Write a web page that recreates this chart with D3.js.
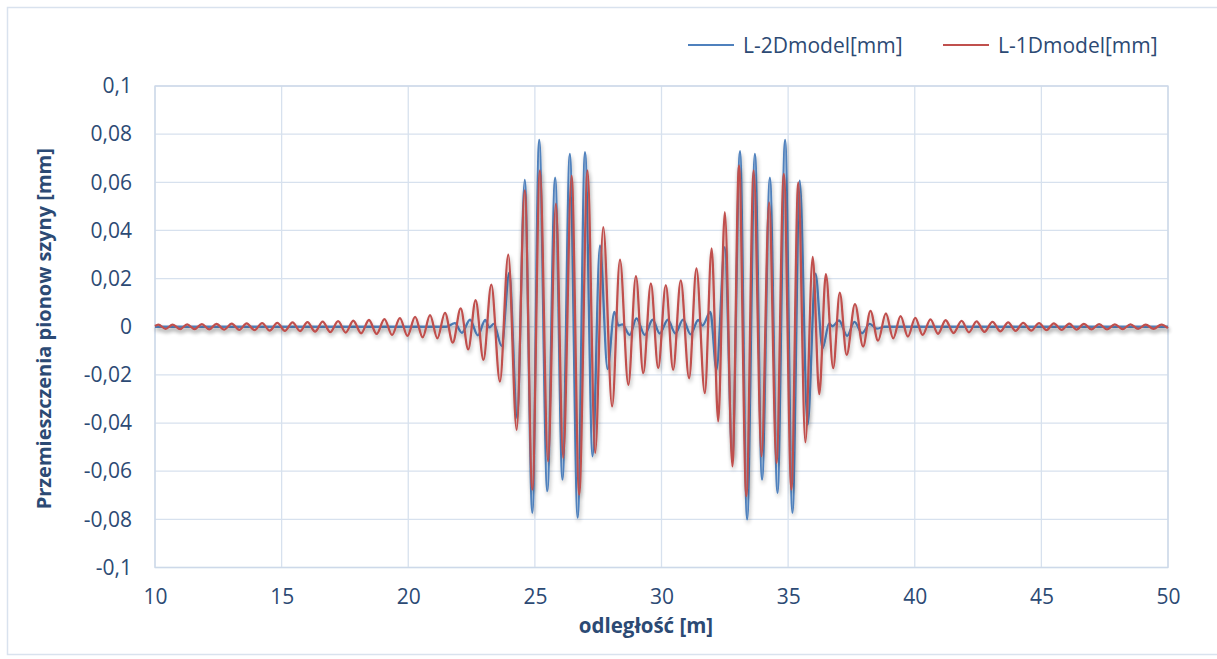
<!DOCTYPE html>
<html><head><meta charset="utf-8">
<script src="https://cdnjs.cloudflare.com/ajax/libs/d3/7.8.5/d3.min.js"></script>
<style>body{margin:0;background:#fff;} svg{display:block;}</style>
</head><body>
<svg id="chart" width="1217" height="659"></svg>
<script>
// ---- data ----
const xTicks = [10, 15, 20, 25, 30, 35, 40, 45, 50];
const xTickLabels = ["10", "15", "20", "25", "30", "35", "40", "45", "50"];
const yTicks = [0.1, 0.08, 0.06, 0.04, 0.02, 0, -0.02, -0.04, -0.06, -0.08, -0.1];
const yTickLabels = ["0,1", "0,08", "0,06", "0,04", "0,02", "0", "-0,02", "-0,04", "-0,06", "-0,08", "-0,1"];
const seriesNames = ["L-2Dmodel[mm]", "L-1Dmodel[mm]"];
const xTitle = "odległość [m]";
const yTitle = "Przemieszczenia pionow szyny [mm]";

// L-2Dmodel (blue): [odległość, przemieszczenie]
const series2D = [
  [10.00, 0.0000], [21.50, 0.0000], [21.84, 0.0015], [22.12, -0.0025], [22.44, 0.0029],
  [22.75, -0.0036], [23.04, 0.0028], [23.20, -0.0003], [23.38, 0.0012], [23.69, -0.0080],
  [23.99, 0.0225], [24.30, -0.0380], [24.60, 0.0610], [24.90, -0.0773], [25.17, 0.0776],
  [25.49, -0.0683], [25.80, 0.0619], [26.09, -0.0635], [26.38, 0.0718], [26.69, -0.0793],
  [26.98, 0.0725], [27.28, -0.0538], [27.57, 0.0338], [27.87, -0.0176], [28.14, 0.0062],
  [28.30, 0.0005], [28.45, 0.0010], [28.75, -0.0034], [29.01, 0.0035], [29.34, -0.0034],
  [29.65, 0.0029], [29.93, -0.0028], [30.25, 0.0029], [30.55, -0.0028], [30.85, 0.0030],
  [31.15, -0.0032], [31.45, 0.0028], [31.62, 0.0005], [31.93, 0.0062], [32.17, -0.0179],
  [32.50, 0.0331], [32.80, -0.0540], [33.10, 0.0729], [33.38, -0.0800], [33.69, 0.0718],
  [33.97, -0.0635], [34.28, 0.0619], [34.58, -0.0690], [34.88, 0.0776], [35.17, -0.0773],
  [35.46, 0.0607], [35.77, -0.0407], [36.08, 0.0221], [36.36, -0.0090], [36.62, 0.0014],
  [36.75, 0.0002], [37.01, 0.0026], [37.33, -0.0038], [37.62, 0.0020], [37.92, -0.0027],
  [38.22, 0.0012], [38.50, -0.0008], [38.80, 0.0000], [50.00, 0.0000]
];

// L-1Dmodel (red): [odległość, przemieszczenie]
const series1D = [
  [10.00, 0.0003], [10.13, 0.0009], [10.42, -0.0009], [10.70, 0.0009], [10.99, -0.0010],
  [11.27, 0.0010], [11.56, -0.0010], [11.85, 0.0011], [12.14, -0.0011], [12.43, 0.0012],
  [12.73, -0.0012], [13.03, 0.0013], [13.33, -0.0013], [13.62, 0.0014], [13.93, -0.0014],
  [14.23, 0.0015], [14.53, -0.0016], [14.83, 0.0016], [15.13, -0.0017], [15.43, 0.0018],
  [15.73, -0.0018], [16.02, 0.0019], [16.32, -0.0020], [16.62, 0.0021], [16.92, -0.0022],
  [17.23, 0.0023], [17.53, -0.0024], [17.83, 0.0025], [18.14, -0.0027], [18.45, 0.0028],
  [18.75, -0.0030], [19.06, 0.0032], [19.36, -0.0034], [19.67, 0.0036], [19.97, -0.0038],
  [20.27, 0.0041], [20.57, -0.0044], [20.86, 0.0048], [21.15, -0.0048], [21.45, 0.0058],
  [21.76, -0.0066], [22.07, 0.0076], [22.37, -0.0094], [22.66, 0.0110], [22.97, -0.0138],
  [23.28, 0.0175], [23.62, -0.0228], [23.95, 0.0300], [24.28, -0.0428], [24.60, 0.0566],
  [24.90, -0.0676], [25.20, 0.0649], [25.52, -0.0559], [25.83, 0.0511], [26.12, -0.0545],
  [26.45, 0.0628], [26.75, -0.0697], [27.08, 0.0649], [27.38, -0.0524], [27.70, 0.0414],
  [28.05, -0.0331], [28.36, 0.0279], [28.69, -0.0241], [28.99, 0.0210], [29.28, -0.0193],
  [29.58, 0.0180], [29.87, -0.0172], [30.17, 0.0173], [30.46, -0.0179], [30.76, 0.0193],
  [31.09, -0.0214], [31.38, 0.0242], [31.71, -0.0276], [31.98, 0.0325], [32.24, -0.0393],
  [32.50, 0.0476], [32.80, -0.0580], [33.06, 0.0670], [33.35, -0.0704], [33.64, 0.0649],
  [33.95, -0.0538], [34.25, 0.0517], [34.54, -0.0566], [34.83, 0.0635], [35.13, -0.0676],
  [35.40, 0.0600], [35.68, -0.0480], [35.97, 0.0290], [36.23, -0.0280], [36.49, 0.0218],
  [36.78, -0.0172], [37.04, 0.0142], [37.31, -0.0117], [37.64, 0.0094], [37.96, -0.0082],
  [38.25, 0.0066], [38.55, -0.0058], [38.86, 0.0055], [39.15, -0.0048], [39.44, 0.0044],
  [39.73, -0.0041], [40.02, 0.0037], [40.31, -0.0034], [40.62, 0.0031], [40.92, -0.0029],
  [41.22, 0.0027], [41.53, -0.0026], [41.85, 0.0024], [42.14, -0.0023], [42.44, 0.0022],
  [42.75, -0.0021], [43.07, 0.0020], [43.38, -0.0019], [43.69, 0.0018], [43.98, -0.0017],
  [44.28, 0.0016], [44.60, -0.0016], [44.91, 0.0015], [45.20, -0.0014], [45.49, 0.0014],
  [45.80, -0.0013], [46.10, 0.0013], [46.39, -0.0012], [46.68, 0.0012], [46.98, -0.0011],
  [47.28, 0.0011], [47.59, -0.0011], [47.90, 0.0010], [48.21, -0.0010], [48.52, 0.0010],
  [48.82, -0.0009], [49.12, 0.0009], [49.43, -0.0009], [49.74, 0.0009], [50.00, -0.0006]
];

// ---- styles / layout ----
const colors = ["#4f81bd", "#c0504d"];
const textColor = "#2c4a74";
const gridColor = "#d7e1ee";
const fontFam = "'Open Sans', 'Noto Sans', sans-serif";
const W = 1217, H = 659;
const plot = {left: 155, right: 1168, top: 86, bottom: 567.5};

const svg = d3.select("#chart");

const defs = svg.append("defs");
const f = defs.append("filter").attr("id", "shadow")
  .attr("filterUnits", "userSpaceOnUse").attr("x", 0).attr("y", 0).attr("width", W).attr("height", H);
f.append("feGaussianBlur").attr("in", "SourceAlpha").attr("stdDeviation", 2).attr("result", "b");
f.append("feOffset").attr("in", "b").attr("dx", 1).attr("dy", 3).attr("result", "o");
const ct = f.append("feComponentTransfer").attr("in", "o").attr("result", "s");
ct.append("feFuncA").attr("type", "linear").attr("slope", 0.3);
const fm = f.append("feMerge");
fm.append("feMergeNode").attr("in", "s");
fm.append("feMergeNode").attr("in", "SourceGraphic");

// chart outer border
svg.append("rect").attr("x", 7.5).attr("y", 7.5).attr("width", W + 20).attr("height", 647)
  .attr("fill", "#fff").attr("stroke", "#d9e2ee").attr("stroke-width", 1.5);

const x = d3.scaleLinear().domain([10, 50]).range([plot.left, plot.right]);
const y = d3.scaleLinear().domain([-0.1, 0.1]).range([plot.bottom, plot.top]);

// gridlines
const grid = svg.append("g");
grid.selectAll(".hg").data(yTicks).enter().append("line")
  .attr("x1", plot.left).attr("x2", plot.right)
  .attr("y1", d => y(d)).attr("y2", d => y(d))
  .attr("stroke", gridColor).attr("stroke-width", 1.3);
grid.selectAll(".vg").data(xTicks).enter().append("line")
  .attr("y1", plot.top).attr("y2", plot.bottom)
  .attr("x1", d => x(d)).attr("x2", d => x(d))
  .attr("stroke", gridColor).attr("stroke-width", 1.3);
svg.append("rect").attr("x", plot.left).attr("y", plot.top)
  .attr("width", plot.right - plot.left).attr("height", plot.bottom - plot.top)
  .attr("fill", "none").attr("stroke", "#cdd9e9").attr("stroke-width", 1.3);

// axes
const yAxis = d3.axisLeft(y).tickValues(yTicks)
  .tickFormat((d, i) => yTickLabels[i]).tickSize(0).tickPadding(23);
const gy = svg.append("g").attr("transform", `translate(${plot.left},0)`).call(yAxis);
const xAxis = d3.axisBottom(x).tickValues(xTicks)
  .tickFormat((d, i) => xTickLabels[i]).tickSize(0).tickPadding(22);
const gx = svg.append("g").attr("transform", `translate(0,${plot.bottom})`).call(xAxis);
[gx, gy].forEach(g => {
  g.select(".domain").remove();
  g.selectAll("text").attr("fill", textColor).style("font-family", fontFam).style("font-size", "21px");
});

// series
const line = d3.line().x(d => x(d[0])).y(d => y(d[1])).curve(d3.curveMonotoneX);
const allSeries = [series2D, series1D];
allSeries.forEach((s, i) => {
  svg.append("path").datum(s).attr("d", line)
    .attr("fill", "none").attr("stroke", colors[i]).attr("stroke-width", 2.3)
    .attr("stroke-linejoin", "round").attr("filter", "url(#shadow)");
});

// axis titles
svg.append("text").attr("x", 646).attr("y", 633)
  .attr("text-anchor", "middle").attr("fill", textColor)
  .style("font-family", fontFam).style("font-size", "20.5px").style("font-weight", "bold")
  .text(xTitle);
svg.append("text").attr("transform", `translate(51,${y(0) + 2}) rotate(-90)`)
  .attr("text-anchor", "middle").attr("fill", textColor)
  .style("font-family", fontFam).style("font-size", "20px").style("font-weight", "bold")
  .text(yTitle);

// legend
const legendPos = [688, 943];
seriesNames.forEach((n, i) => {
  const g = svg.append("g").attr("transform", `translate(${legendPos[i]},45)`);
  g.append("line").attr("x1", 0).attr("x2", 46).attr("y1", 0).attr("y2", 0)
    .attr("stroke", colors[i]).attr("stroke-width", 2.2);
  g.append("text").attr("x", 55).attr("y", 7.5).attr("fill", textColor)
    .style("font-family", fontFam).style("font-size", "21px").text(n);
});
</script>
</body></html>
